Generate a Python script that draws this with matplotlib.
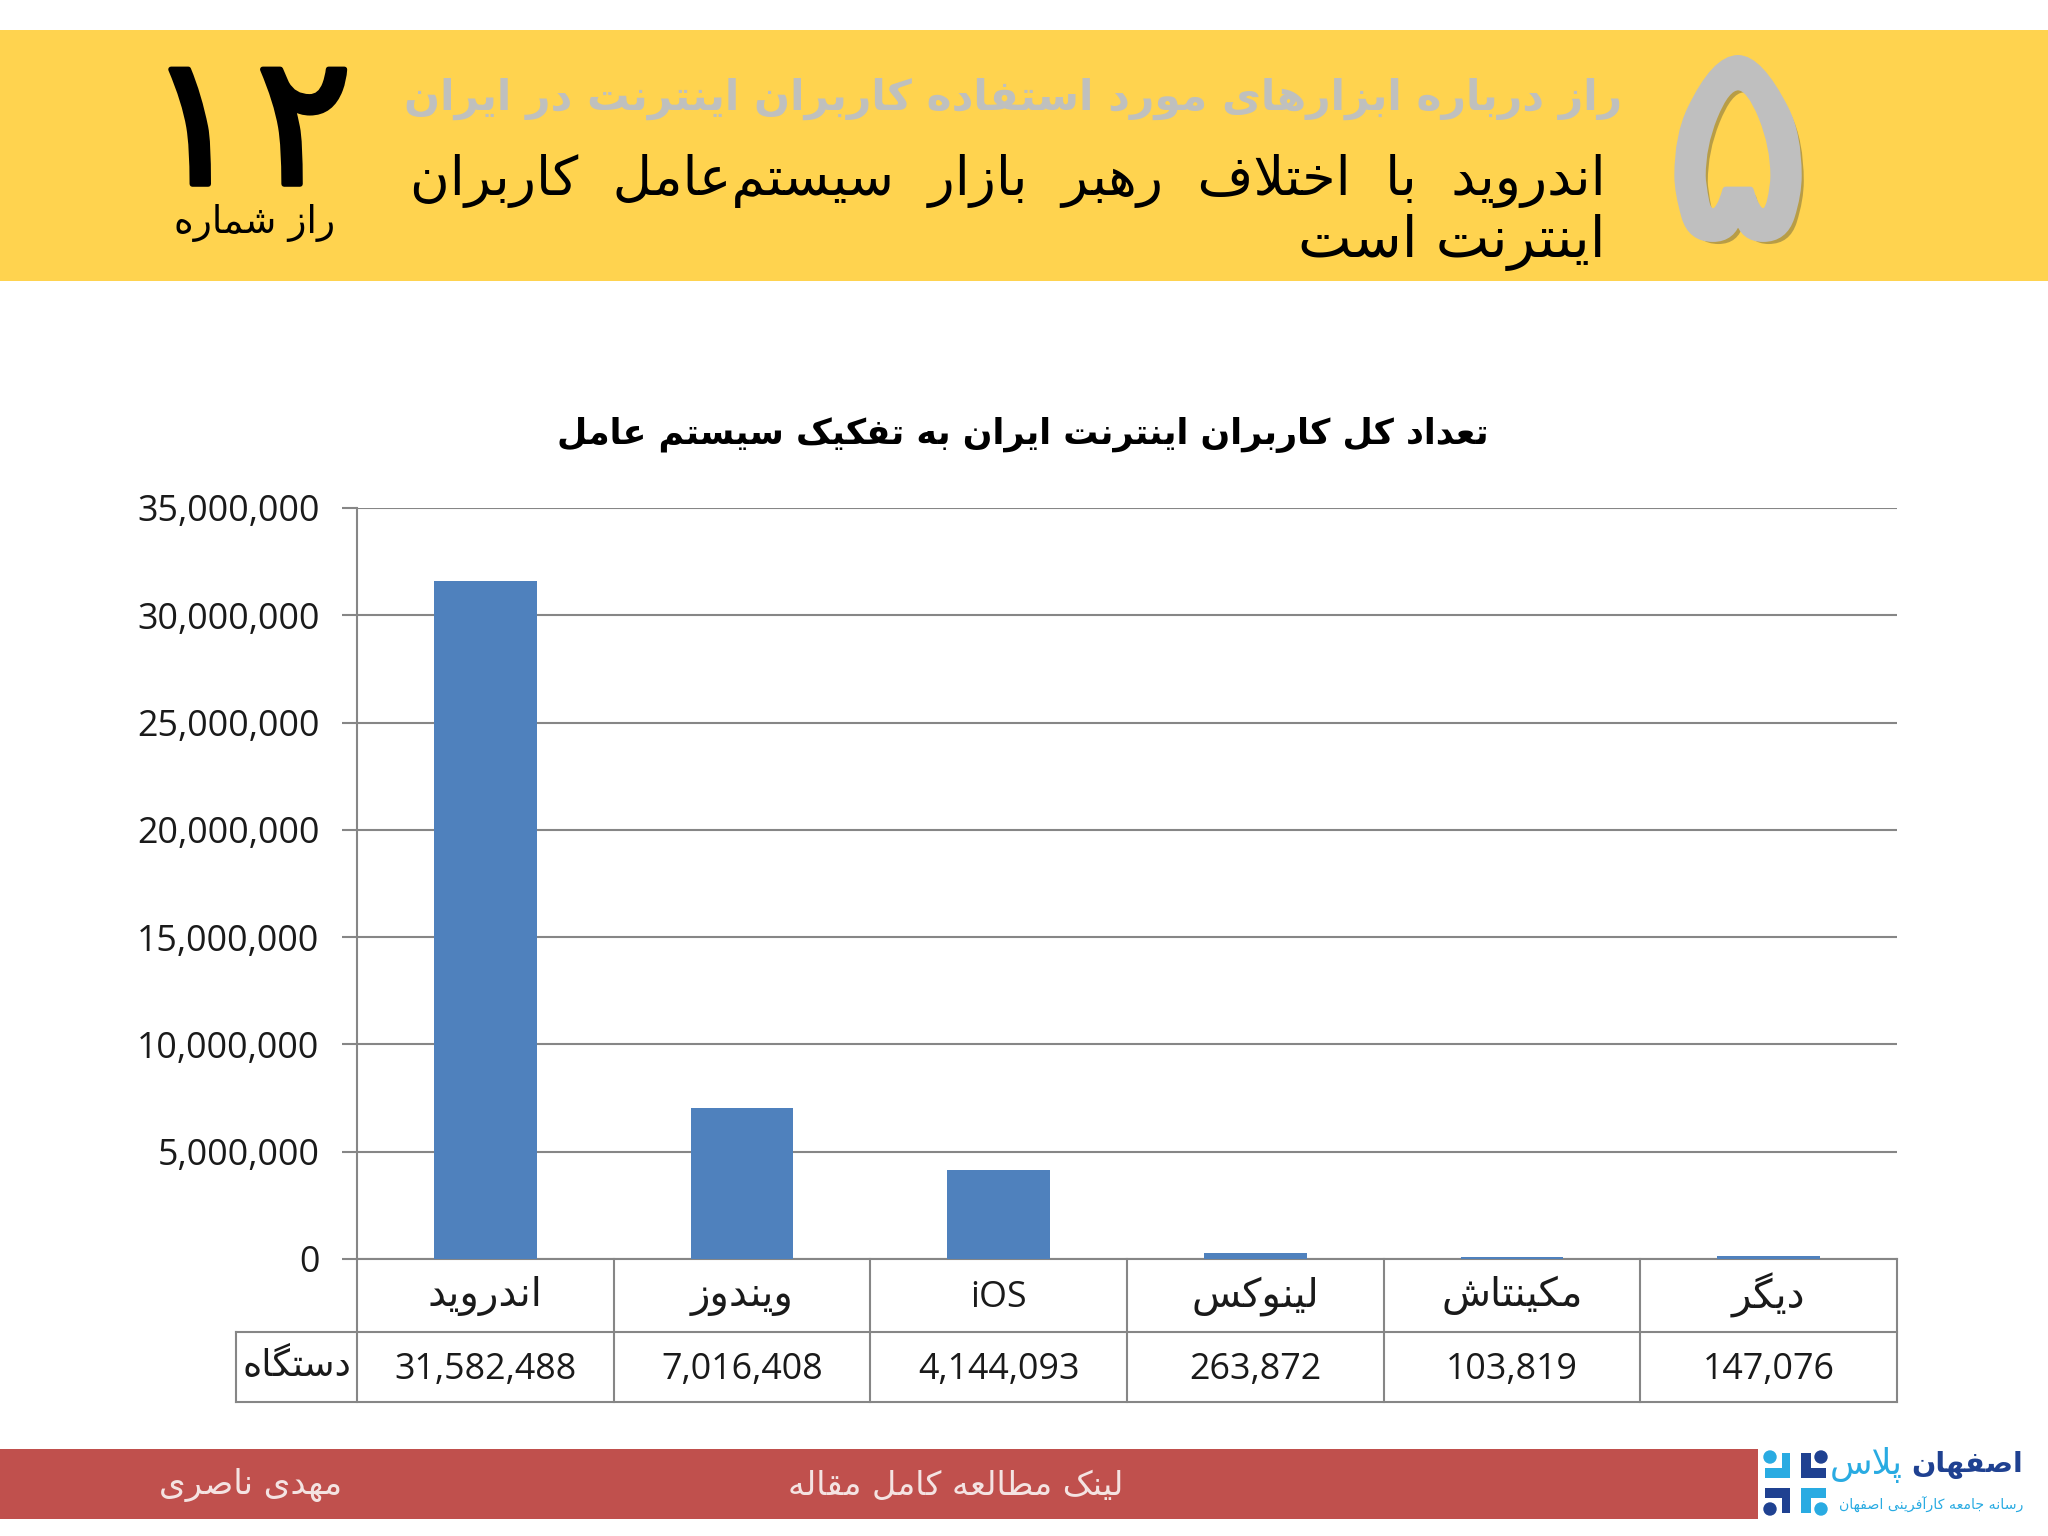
import matplotlib
matplotlib.use('Agg')
import matplotlib.pyplot as plt
import matplotlib.patheffects as pe
from matplotlib.patches import Rectangle, Circle

plt.rcParams['font.family'] = ['Open Sans', 'DejaVu Sans']

# data
categories = ['اندروید', 'ویندوز', 'iOS', 'لینوکس', 'مکینتاش', 'دیگر']
devices = [31582488, 7016408, 4144093, 263872, 103819, 147076]
yticks = [0, 5000000, 10000000, 15000000, 20000000, 25000000, 30000000, 35000000]
row_label = 'دستگاه'
chart_title = 'تعداد کل کاربران اینترنت ایران به تفکیک سیستم عامل'
head_grey = 'راز درباره ابزارهای مورد استفاده کاربران اینترنت در ایران'
head_words = ['اندروید', 'با', 'اختلاف', 'رهبر', 'بازار', 'سیستم\u200cعامل', 'کاربران']
head_line2 = 'اینترنت است'
secret_label = 'راز شماره'
foot_left = 'مهدی ناصری'
foot_mid = 'لینک مطالعه کامل مقاله'
logo_a = 'اصفهان'
logo_b = 'پلاس'
logo_sub = 'رسانه جامعه کارآفرینی اصفهان'

# presentation forms: isolated, final, initial, medial
FORMS = {
    'ا': (0xFE8D, 0xFE8E), 'آ': (0xFE81, 0xFE82), 'د': (0xFEA9, 0xFEAA),
    'ر': (0xFEAD, 0xFEAE), 'ز': (0xFEAF, 0xFEB0), 'و': (0xFEED, 0xFEEE),
    'ب': (0xFE8F, 0xFE90, 0xFE91, 0xFE92), 'پ': (0xFB56, 0xFB57, 0xFB58, 0xFB59),
    'ت': (0xFE95, 0xFE96, 0xFE97, 0xFE98), 'ج': (0xFE9D, 0xFE9E, 0xFE9F, 0xFEA0),
    'خ': (0xFEA5, 0xFEA6, 0xFEA7, 0xFEA8), 'س': (0xFEB1, 0xFEB2, 0xFEB3, 0xFEB4),
    'ش': (0xFEB5, 0xFEB6, 0xFEB7, 0xFEB8), 'ص': (0xFEB9, 0xFEBA, 0xFEBB, 0xFEBC),
    'ط': (0xFEC1, 0xFEC2, 0xFEC3, 0xFEC4),
    'ع': (0xFEC9, 0xFECA, 0xFECB, 0xFECC), 'ف': (0xFED1, 0xFED2, 0xFED3, 0xFED4),
    'ق': (0xFED5, 0xFED6, 0xFED7, 0xFED8), 'ک': (0xFB8E, 0xFB8F, 0xFB90, 0xFB91),
    'گ': (0xFB92, 0xFB93, 0xFB94, 0xFB95), 'ل': (0xFEDD, 0xFEDE, 0xFEDF, 0xFEE0),
    'م': (0xFEE1, 0xFEE2, 0xFEE3, 0xFEE4), 'ن': (0xFEE5, 0xFEE6, 0xFEE7, 0xFEE8),
    'ه': (0xFEE9, 0xFEEA, 0xFEEB, 0xFEEC), 'ی': (0xFBFC, 0xFBFD, 0xFBFE, 0xFBFF),
}


def fa(s):
    # matplotlib has no shaping, so pick the joined forms and reverse
    s = s.replace('لا', '\uFEFB').replace('لآ', '\uFEF5')
    out = []
    for i, ch in enumerate(s):
        prev = s[i - 1] if i > 0 else ' '
        nxt = s[i + 1] if i + 1 < len(s) else ' '
        join_prev = prev in FORMS and len(FORMS[prev]) == 4
        if ch in ('\uFEFB', '\uFEF5'):
            out.append(chr(ord(ch) + 1) if join_prev else ch)
        elif ch == '\u200c':
            continue
        elif ch in FORMS:
            f = FORMS[ch]
            join_next = len(f) == 4 and (nxt in FORMS or nxt in ('\uFEFB', '\uFEF5'))
            if join_prev and join_next:
                out.append(chr(f[3]))
            elif join_prev:
                out.append(chr(f[1]))
            elif join_next:
                out.append(chr(f[2]))
            else:
                out.append(chr(f[0]))
        else:
            out.append(ch)
    return ''.join(reversed(out))


fig = plt.figure(figsize=(20.48, 15.36), dpi=100, facecolor='white')

# overlay in pixel coordinates for bands and header text
bg = fig.add_axes([0, 0, 1, 1])
bg.set_xlim(0, 2048)
bg.set_ylim(1536, 0)
bg.axis('off')

bg.add_patch(Rectangle((0, 30), 2048, 251, color='#FFD34F', lw=0))
bg.add_patch(Rectangle((0, 1449), 1758, 70, color='#C0504D', lw=0))

arabic = ['DejaVu Sans']
shadow = [pe.withSimplePatchShadow(offset=(4, -4), shadow_rgbFace='#8a7a40', alpha=0.6),
          pe.withStroke(linewidth=5, foreground='#BFBFBF')]
bg.text(1738, 160, '۵', fontsize=200, color='#BFBFBF', family=arabic,
        ha='center', va='center', path_effects=shadow)
thick = [pe.withStroke(linewidth=4, foreground='black')]
bg.text(195, 134, '۱', fontsize=130, color='black', family=arabic, ha='center', va='center', path_effects=thick)
bg.text(304, 134, '۲', fontsize=130, color='black', family=arabic, ha='center', va='center', path_effects=thick)
bg.text(255, 223, fa(secret_label), fontsize=27, color='black', family=arabic, ha='center', va='center')
bg.text(1622, 99, fa(head_grey), fontsize=30.5, fontweight='bold', color='#BFC0BE', family=arabic,
        ha='right', va='center')
bg.text(1606, 181, '  '.join(fa(w) for w in reversed(head_words)), fontsize=39, color='black',
        family=arabic, ha='right', va='center')
bg.text(1606, 242, fa(head_line2), fontsize=41, color='black', family=arabic, ha='right', va='center')
bg.text(1023, 435, fa(chart_title), fontsize=25.1, fontweight='bold', color='black', family=arabic,
        ha='center', va='center')
bg.text(251, 1485, fa(foot_left), fontsize=24.5, color='#F4E3E2', family=arabic, ha='center', va='center')
bg.text(956, 1485, fa(foot_mid), fontsize=24, color='#F4E3E2', family=arabic, ha='center', va='center')

# logo
light, dark = '#29ABE2', '#1F4191'
for x, y, w, h, c in [(1765, 1468, 25, 10, light), (1782, 1453, 8, 25, light),
                      (1801, 1453, 10, 25, dark), (1801, 1468, 25, 10, dark),
                      (1765, 1488, 25, 10, dark), (1782, 1488, 8, 25, dark),
                      (1801, 1488, 25, 10, light), (1801, 1488, 10, 25, light)]:
    bg.add_patch(Rectangle((x, y), w, h, color=c, lw=0))
for x, y, c in [(1770, 1457, light), (1821, 1457, dark), (1770, 1509, dark), (1821, 1509, light)]:
    bg.add_patch(Circle((x, y), 6.7, color=c, lw=0))
bg.text(2023, 1465, fa(logo_a), fontsize=20.5, fontweight='bold', color=dark, family=arabic,
        ha='right', va='center')
bg.text(1903, 1465, fa(logo_b), fontsize=25, color=light, family=arabic, ha='right', va='center')
bg.text(2023, 1505, fa(logo_sub), fontsize=10.2, color=light, family=arabic, ha='right', va='center')

# chart
ax = fig.add_axes([357 / 2048, 1 - 1259 / 1536, 1540 / 2048, 751 / 1536])
ax.patch.set_alpha(0)
line_c = '#868686'
text_c = '#1a1a1a'
x_pos = list(range(len(categories)))
ax.bar(x_pos, devices, width=0.4, color='#4F81BD', zorder=3)
ax.set_xlim(-0.5, 5.5)
ax.set_ylim(0, 35000000)
ax.set_yticks(yticks)
ax.set_yticklabels([format(t, ',') for t in yticks], fontsize=25.8, color=text_c)
ax.set_xticks([])
ax.grid(axis='y', color=line_c, lw=1.5, zorder=1)
ax.set_axisbelow(True)
ax.tick_params(axis='y', length=11, width=1.5, color=line_c, pad=16)
for side in ['top', 'right']:
    ax.spines[side].set_visible(False)
for side in ['left', 'bottom']:
    ax.spines[side].set_color(line_c)
    ax.spines[side].set_linewidth(1.5)

# data table under the axis, x from the category scale, y in pixels below the axis
trans = ax.get_xaxis_transform()


def row_y(px):
    return -(px - 1259) / 751


for i in range(len(categories) + 1):
    ax.plot([i - 0.5, i - 0.5], [row_y(1259), row_y(1402)], transform=trans, color=line_c, lw=1.5, clip_on=False)
for px in [1332, 1402]:
    ax.plot([-0.97, 5.5], [row_y(px), row_y(px)], transform=trans, color=line_c, lw=1.5, clip_on=False)
ax.plot([-0.97, -0.97], [row_y(1332), row_y(1402)], transform=trans, color=line_c, lw=1.5, clip_on=False)

for i, (name, val) in enumerate(zip(categories, devices)):
    if name == 'iOS':
        ax.text(i, row_y(1298), name, transform=trans, fontsize=25.8, color=text_c, ha='center', va='center')
    else:
        ax.text(i, row_y(1296), fa(name), transform=trans, fontsize=29, color=text_c, ha='center', va='center')
    ax.text(i, row_y(1370), format(val, ','), transform=trans, fontsize=25.8, color=text_c, ha='center', va='center')
ax.text(-0.735, row_y(1367), fa(row_label), transform=trans, fontsize=26.5, color=text_c, ha='center', va='center')

fig.savefig('out.png', dpi=100)
